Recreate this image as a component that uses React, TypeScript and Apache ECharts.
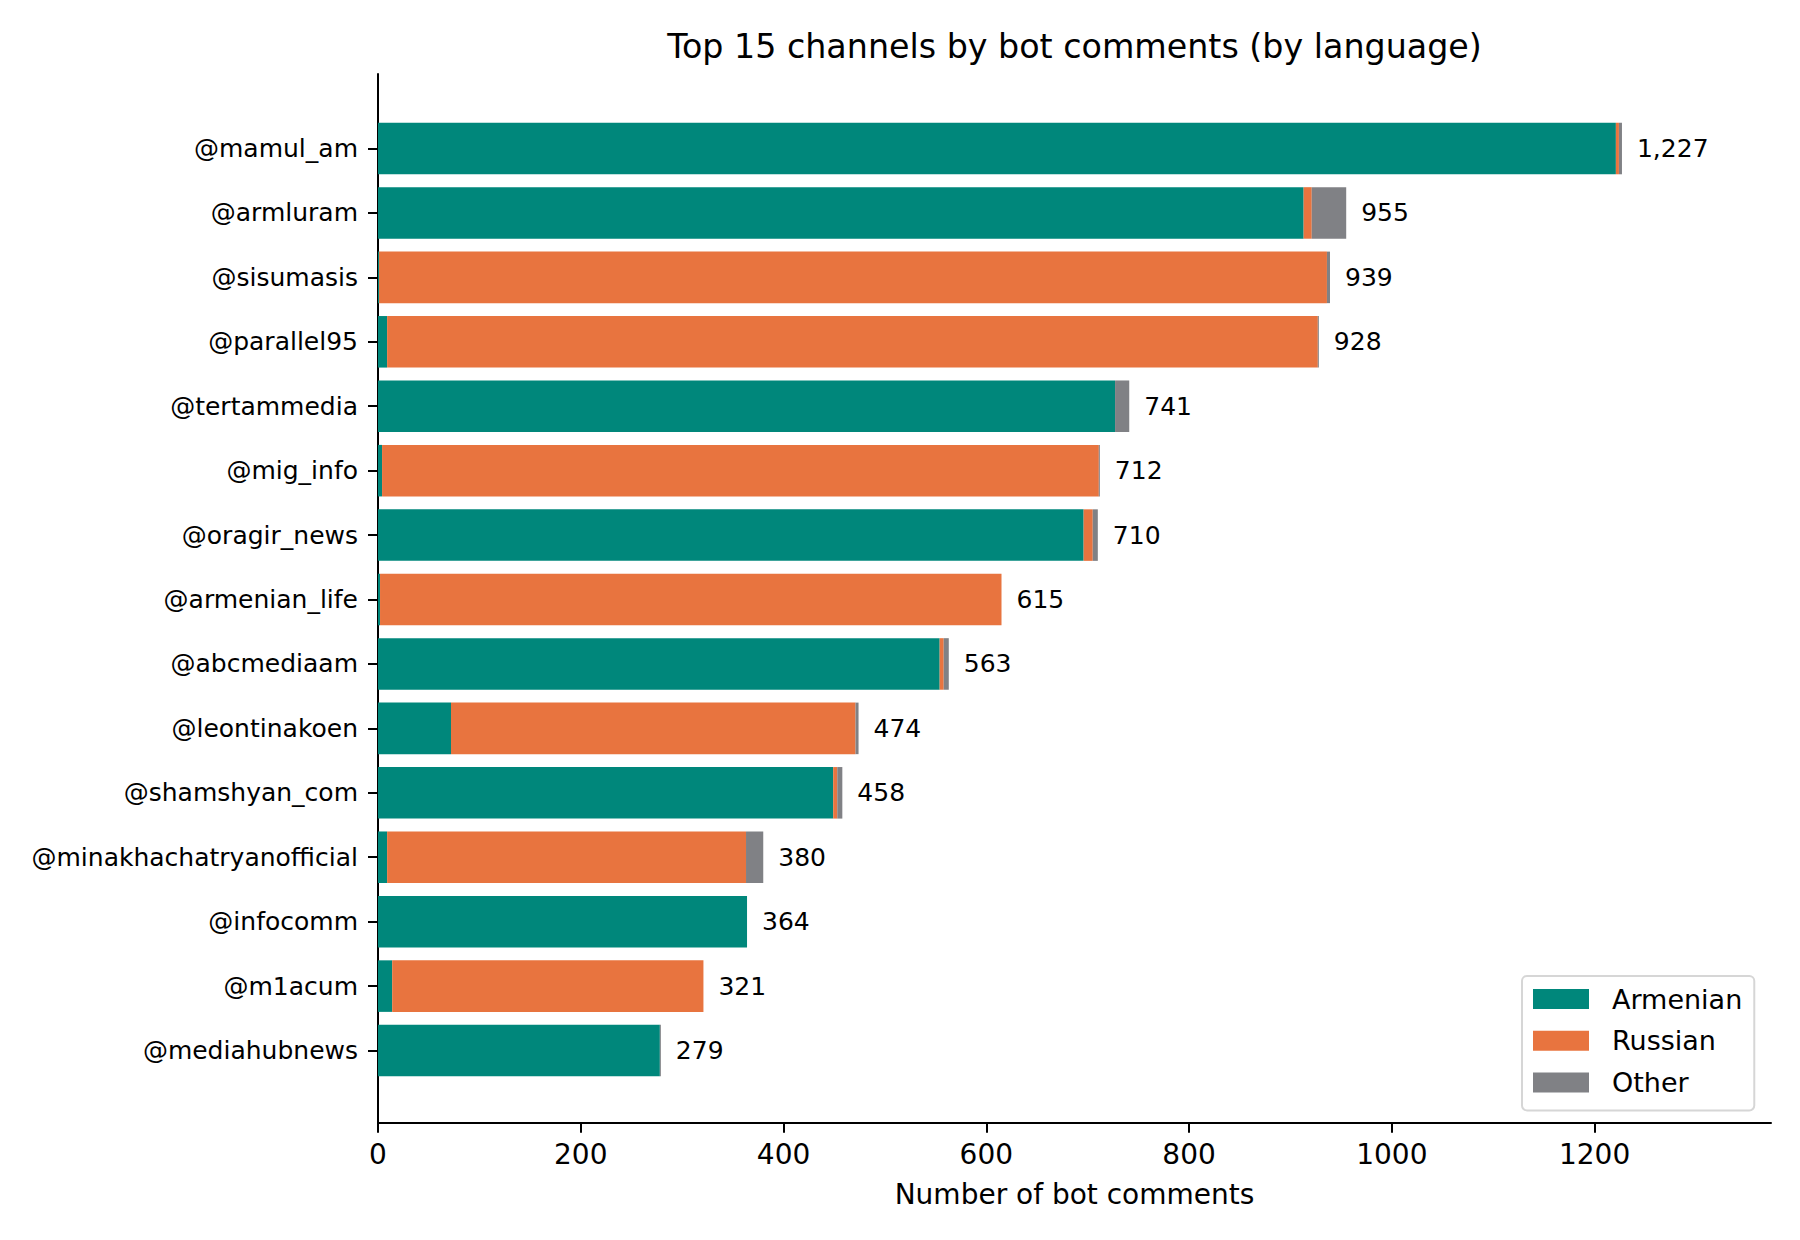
import React, { useEffect, useRef } from "react";
import * as echarts from "echarts";

const channels = [
  "@mamul_am",
  "@armluram",
  "@sisumasis",
  "@parallel95",
  "@tertammedia",
  "@mig_info",
  "@oragir_news",
  "@armenian_life",
  "@abcmediaam",
  "@leontinakoen",
  "@shamshyan_com",
  "@minakhachatryanofficial",
  "@infocomm",
  "@m1acum",
  "@mediahubnews",
];
const armenian = [1221, 913, 1, 9, 727, 4, 696, 2, 554, 72, 449, 9, 364, 14, 278];
const russian = [3, 8, 935, 918, 0, 707, 9, 613, 4, 399, 4, 354, 0, 307, 0];
const other = [3, 34, 3, 1, 14, 1, 5, 0, 5, 3, 5, 17, 0, 0, 1];
const xTicks = [0, 200, 400, 600, 800, 1000, 1200];

const FONT = "DejaVu Sans";
const COLORS = { Armenian: "#00877B", Russian: "#E8743F", Other: "#808185" };

export default function App() {
  const ref = useRef<HTMLDivElement>(null);
  useEffect(() => {
    if (!ref.current) return;
    const chart = echarts.init(ref.current, null, { renderer: "svg" });
    const totals = channels.map((_, i) => armenian[i] + russian[i] + other[i]);
    const xMax = 1374;
    const left = 378;
    const right = 1800 - 1771;
    const pitch = 64.43;
    const barsTop = 116.3;
    const barsHeight = pitch * channels.length;
    const axisBottomY = 1122.7;
    const option: any = {
      animation: false,
      backgroundColor: "#ffffff",
      textStyle: { fontFamily: FONT },
      title: {
        text: "Top 15 channels by bot comments (by language)",
        left: (left + 1771) / 2 - 5,
        textAlign: "center",
        top: 25,
        textStyle: { fontFamily: FONT, fontSize: 33.3, fontWeight: "normal", color: "#000" },
      },
      legend: {
        data: ["Armenian", "Russian", "Other"],
        orient: "vertical",
        left: 1522,
        top: 976,
        itemWidth: 56,
        itemHeight: 20,
        itemGap: 14.7,
        icon: "rect",
        padding: [9.5, 12, 14.5, 11],
        backgroundColor: "#ffffff",
        borderColor: "#d6d6d6",
        borderWidth: 2,
        borderRadius: 5,
        textStyle: { fontFamily: FONT, fontSize: 27, color: "#000", padding: [0, 0, 0, 18] },
      },
      grid: [
        { left, right, top: barsTop, height: barsHeight, containLabel: false },
        { left, right, top: 74, bottom: 1240 - axisBottomY, containLabel: false },
      ],
      xAxis: [
        {
          type: "value",
          gridIndex: 0,
          min: 0,
          max: xMax,
          interval: 200,
          position: "bottom",
          offset: axisBottomY - (barsTop + barsHeight),
          axisLine: { show: true, lineStyle: { color: "#000", width: 2 } },
          axisTick: { show: true, length: 10, lineStyle: { color: "#000", width: 2 } },
          axisLabel: {
            show: true,
            margin: 18,
            fontFamily: FONT,
            fontSize: 28,
            color: "#000",
            showMaxLabel: false,
            formatter: (v: number) => (xTicks.includes(v) ? String(v) : ""),
          },
          splitLine: { show: false },
          name: "Number of bot comments",
          nameLocation: "middle",
          nameGap: 58,
          nameTextStyle: { fontFamily: FONT, fontSize: 28, color: "#000" },
        },
        {
          type: "value",
          gridIndex: 1,
          min: 0,
          max: xMax,
          show: false,
        },
      ],
      yAxis: [
        {
          type: "category",
          gridIndex: 0,
          data: channels,
          inverse: true,
          axisLine: { show: false },
          axisTick: { show: true, length: 10, alignWithLabel: true, lineStyle: { color: "#000", width: 2 } },
          axisLabel: { show: true, margin: 20, fontFamily: FONT, fontSize: 25, color: "#000" },
          splitLine: { show: false },
        },
        {
          type: "value",
          gridIndex: 1,
          min: 0,
          max: 1,
          axisLine: { show: true, lineStyle: { color: "#000", width: 2 } },
          axisTick: { show: false },
          axisLabel: { show: false },
          splitLine: { show: false },
        },
      ],
      series: [
        {
          name: "Armenian",
          type: "bar",
          stack: "total",
          xAxisIndex: 0,
          yAxisIndex: 0,
          barWidth: "80%",
          data: armenian,
          itemStyle: { color: COLORS.Armenian },
        },
        {
          name: "Russian",
          type: "bar",
          stack: "total",
          xAxisIndex: 0,
          yAxisIndex: 0,
          barWidth: "80%",
          data: russian,
          itemStyle: { color: COLORS.Russian },
        },
        {
          name: "Other",
          type: "bar",
          stack: "total",
          xAxisIndex: 0,
          yAxisIndex: 0,
          barWidth: "80%",
          data: other,
          itemStyle: { color: COLORS.Other },
        },
        {
          name: "totals",
          type: "scatter",
          xAxisIndex: 0,
          yAxisIndex: 0,
          symbolSize: 0,
          silent: true,
          itemStyle: { opacity: 1 },
          data: totals.map((t, i) => [t, i]),
          label: {
            show: true,
            position: "right",
            distance: 15,
            fontFamily: FONT,
            fontSize: 25,
            color: "#000",
            opacity: 1,
            formatter: (p: any) => Number(p.value[0]).toLocaleString("en-US"),
          },
        },
      ],
    };
    chart.setOption(option);
    return () => chart.dispose();
  }, []);
  return (
    <div
      ref={ref}
      style={{ position: "absolute", left: 0, top: 0, width: 1800, height: 1240, background: "#fff" }}
    />
  );
}
